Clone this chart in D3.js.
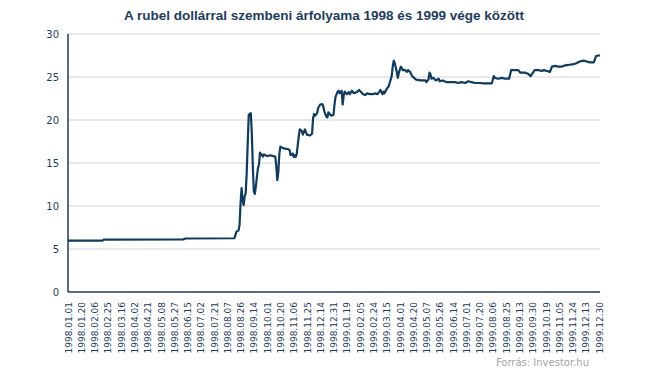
<!DOCTYPE html>
<html>
<head>
<meta charset="utf-8">
<script src="https://cdn.jsdelivr.net/npm/d3@7"></script>
<style>
  body { margin: 0; background: #fff; }
  svg text { font-family: "DejaVu Sans", sans-serif; }
</style>
</head>
<body>
<div id="chart"></div>
<script>
// trading day index (0 = 1998.01.01, weekdays only, 521 = 1999.12.31)
const day = [0, 34, 35, 113, 115, 163, 165, 167, 168, 169, 170, 171, 172, 173, 174, 175, 176, 177, 179, 180,
  181, 182, 183, 184, 186, 187, 188, 189, 190, 191, 192, 195, 198, 201, 203, 204, 205, 206, 207, 208,
  211, 216, 217, 218, 220, 221, 222, 223, 224, 226, 227, 229, 230, 232, 234, 237, 239, 240, 241, 242,
  244, 245, 247, 249, 250, 251, 253, 254, 255, 257, 258, 260, 261, 262, 264, 265, 266, 268, 269, 270,
  271, 273, 275, 276, 278, 280, 283, 285, 287, 289, 291, 293, 296, 298, 301, 303, 305, 306, 308, 309,
  310, 312, 314, 315, 317, 318, 319, 320, 322, 323, 324, 326, 328, 330, 332, 333, 335, 337, 339, 341,
  345, 350, 351, 353, 354, 355, 356, 358, 360, 363, 364, 367, 371, 374, 379, 382, 385, 389, 392, 395,
  399, 403, 407, 415, 417, 418, 421, 425, 428, 432, 434, 436, 441, 443, 448, 451, 453, 457, 461, 464,
  466, 469, 472, 474, 477, 480, 483, 487, 490, 495, 498, 501, 505, 508, 511, 515, 517, 519, 521];

// RUB / USD
const rate = [5.98, 5.98, 6.10, 6.12, 6.22, 6.25, 7.02, 7.14, 7.8, 10.3, 12.07, 10.7, 10.1, 11.1, 11.5, 13.8, 17.3, 20.6, 20.8, 18.5,
  14.6, 11.7, 11.4, 12.3, 14.4, 14.8, 16.2, 15.9, 16.0, 15.75, 16.0, 15.8, 15.9, 15.8, 15.75, 14.6, 13.0, 14.0, 16.1, 16.9,
  16.7, 16.6, 16.5, 15.9, 16.1, 15.7, 15.9, 15.7, 16.07, 18.1, 18.9, 18.7, 18.3, 18.9, 18.3, 18.2, 18.4, 20.2, 20.7, 20.5,
  20.8, 21.4, 21.8, 21.85, 21.6, 21.0, 20.4, 20.3, 20.9, 20.6, 20.5, 20.6, 21.8, 22.7, 23.3, 23.4, 23.1, 23.4, 21.8, 22.9,
  23.3, 23.0, 23.25, 23.0, 23.4, 23.1, 23.25, 23.5, 23.25, 23.0, 22.9, 23.1, 23.0, 23.0, 23.1, 23.0, 23.3, 23.5, 23.0, 23.3,
  23.1, 23.6, 23.9, 24.3, 25.1, 26.2, 26.9, 26.6, 25.6, 24.9, 25.5, 26.2, 25.8, 25.8, 25.6, 25.8, 25.6, 25.1, 24.9, 24.7,
  24.6, 24.6, 24.4, 24.7, 25.5, 25.3, 24.8, 24.9, 24.6, 24.8, 24.5, 24.6, 24.4, 24.4, 24.4, 24.3, 24.4, 24.3, 24.5, 24.4,
  24.3, 24.3, 24.25, 24.25, 25.1, 24.9, 24.8, 24.9, 24.8, 24.8, 25.8, 25.8, 25.8, 25.5, 25.5, 25.35, 25.1, 25.8, 25.8, 25.7,
  25.8, 25.7, 25.6, 26.2, 26.3, 26.2, 26.2, 26.35, 26.4, 26.5, 26.6, 26.8, 26.9, 26.8, 26.7, 26.7, 27.4, 27.5, 27.5];

// category labels, one every 13 trading days
const tickLabels = ["1998.01.01", "1998.01.20", "1998.02.06", "1998.02.25", "1998.03.16", "1998.04.02",
  "1998.04.21", "1998.05.08", "1998.05.27", "1998.06.15", "1998.07.02", "1998.07.21", "1998.08.07",
  "1998.08.26", "1998.09.14", "1998.10.01", "1998.10.20", "1998.11.06", "1998.11.25", "1998.12.14",
  "1998.12.31", "1999.01.19", "1999.02.05", "1999.02.24", "1999.03.15", "1999.04.01", "1999.04.20",
  "1999.05.07", "1999.05.26", "1999.06.14", "1999.07.01", "1999.07.20", "1999.08.06", "1999.08.25",
  "1999.09.13", "1999.09.30", "1999.10.19", "1999.11.05", "1999.11.24", "1999.12.13", "1999.12.30"];
const tickStep = 13;
const lastDay = 521;
const yTicks = [0, 5, 10, 15, 20, 25, 30];

const width = 645, height = 376;
const margin = {top: 34, right: 45, bottom: 84, left: 68};
const innerW = width - margin.left - margin.right;
const innerH = height - margin.top - margin.bottom;

const navy = "#1e3d5c";

const svg = d3.select("#chart").append("svg")
    .attr("width", width)
    .attr("height", height);

const g = svg.append("g")
    .attr("transform", `translate(${margin.left},${margin.top})`);

const x = d3.scaleLinear().domain([0, lastDay]).range([0, innerW]);
const y = d3.scaleLinear().domain([0, 30]).range([innerH, 0]);

// gridlines
g.append("g")
    .selectAll("line")
    .data(yTicks.filter(d => d > 0))
    .enter().append("line")
    .attr("x1", 0)
    .attr("x2", innerW)
    .attr("y1", d => y(d))
    .attr("y2", d => y(d))
    .attr("stroke", "#d4d4d4")
    .attr("stroke-width", 1);

// y axis
const yAxis = g.append("g")
    .call(d3.axisLeft(y).tickValues(yTicks).tickSize(0).tickPadding(9));
yAxis.select(".domain").remove();
yAxis.selectAll("text")
    .attr("fill", navy)
    .style("font-size", "10px");

// x axis
const xAxis = g.append("g")
    .attr("transform", `translate(0,${innerH})`)
    .call(d3.axisBottom(x)
        .tickValues(tickLabels.map((d, i) => i * tickStep))
        .tickFormat((d, i) => tickLabels[i])
        .tickSize(0));
xAxis.select(".domain").remove();
xAxis.selectAll("text")
    .attr("fill", navy)
    .style("font-size", "9px")
    .attr("text-anchor", "end")
    .attr("transform", "rotate(-90)")
    .attr("x", -10)
    .attr("y", 0)
    .attr("dy", "0.35em");

// axis lines
g.append("line")
    .attr("x1", 0).attr("x2", 0)
    .attr("y1", 0).attr("y2", innerH)
    .attr("stroke", navy).attr("stroke-width", 1.5);
g.append("line")
    .attr("x1", 0).attr("x2", innerW)
    .attr("y1", innerH).attr("y2", innerH)
    .attr("stroke", navy).attr("stroke-width", 1.5);

// rate line
const line = d3.line()
    .x((d, i) => x(day[i]))
    .y(d => y(d));

g.append("path")
    .datum(rate)
    .attr("d", line)
    .attr("fill", "none")
    .attr("stroke", "#0f3b5f")
    .attr("stroke-width", 2.2)
    .attr("stroke-linejoin", "round");

// title
svg.append("text")
    .attr("x", 324)
    .attr("y", 20)
    .attr("text-anchor", "middle")
    .attr("fill", navy)
    .style("font-size", "13.5px")
    .style("font-weight", "bold")
    .style("font-family", "'Liberation Sans', sans-serif")
    .text("A rubel dollárral szembeni árfolyama 1998 és 1999 vége között");

// source
svg.append("text")
    .attr("x", 589)
    .attr("y", 366)
    .attr("text-anchor", "end")
    .attr("fill", "#a3a3a3")
    .style("font-size", "10px")
    .text("Forrás: Investor.hu");
</script>
</body>
</html>
